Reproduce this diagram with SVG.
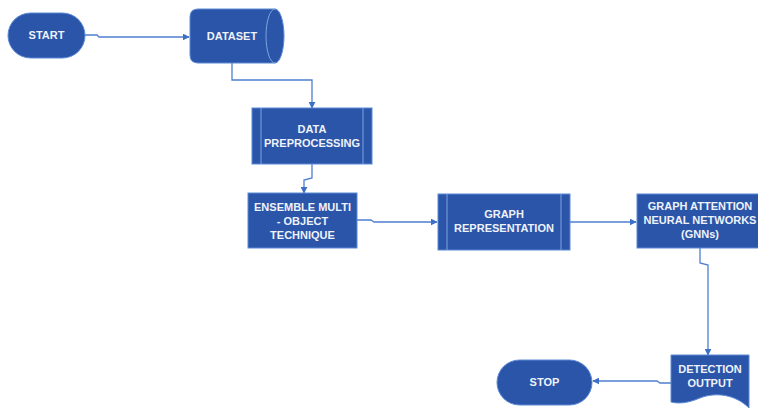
<svg xmlns="http://www.w3.org/2000/svg" width="758" height="408" viewBox="0 0 758 408">
  <style>
    .node { fill: #2a55a8; stroke: #5d8ad6; stroke-width: 1; }
    .inner { fill: none; stroke: #7fa3e0; stroke-width: 1; }
    .lbl { font-family: "Liberation Sans", Arial, sans-serif; font-weight: bold; font-size: 11px; fill: #eef2fa; text-anchor: middle; }
    .conn { fill: none; stroke: #4f7fd0; stroke-width: 1.3; }
  </style>
  <defs>
    <marker id="arrow" viewBox="0 0 10 10" refX="9" refY="5" markerWidth="7" markerHeight="7" orient="auto" markerUnits="userSpaceOnUse">
      <path d="M0,0 L10,5 L0,10 z" fill="#3d6fc4"/>
    </marker>
  </defs>
  <rect width="758" height="408" fill="#ffffff"/>

  <g id="connectors">
    <path class="conn" d="M85,35 H97 L99,37 H189" marker-end="url(#arrow)"/>
    <path class="conn" d="M232,63 V80 H312 V108" marker-end="url(#arrow)"/>
    <path class="conn" d="M312,164 V178 L304,180 V193" marker-end="url(#arrow)"/>
    <path class="conn" d="M357,220 H371 L374,222 H437" marker-end="url(#arrow)"/>
    <path class="conn" d="M570,222 H636" marker-end="url(#arrow)"/>
    <path class="conn" d="M700,248 V263 L708,265 V355" marker-end="url(#arrow)"/>
    <path class="conn" d="M671,383 H660 L657,381 H593" marker-end="url(#arrow)"/>
  </g>

  <g id="start">
    <rect class="node" x="8" y="13" width="77" height="45" rx="22.5"/>
    <text class="lbl" x="46.5" y="39">START</text>
  </g>

  <g id="dataset">
    <path class="node" d="M198,9 H275 A9,27 0 0 1 275,63 H198 Q190,63 190,55 V17 Q190,9 198,9 Z"/>
    <path class="inner" d="M275,9 A9,27 0 0 0 275,63"/>
    <text class="lbl" x="232" y="40">DATASET</text>
  </g>

  <g id="preprocessing">
    <rect class="node" x="252" y="108" width="120" height="56"/>
    <line class="inner" x1="261" y1="108" x2="261" y2="164"/>
    <line class="inner" x1="363" y1="108" x2="363" y2="164"/>
    <text class="lbl" x="312" y="133">DATA</text>
    <text class="lbl" x="312" y="147">PREPROCESSING</text>
  </g>

  <g id="ensemble">
    <rect class="node" x="248" y="193" width="109" height="55"/>
    <text class="lbl" x="302.5" y="211">ENSEMBLE MULTI</text>
    <text class="lbl" x="302.5" y="225">- OBJECT</text>
    <text class="lbl" x="302.5" y="239">TECHNIQUE</text>
  </g>

  <g id="graph-representation">
    <rect class="node" x="438" y="194" width="132" height="56"/>
    <line class="inner" x1="447" y1="194" x2="447" y2="250"/>
    <line class="inner" x1="561" y1="194" x2="561" y2="250"/>
    <text class="lbl" x="504" y="218">GRAPH</text>
    <text class="lbl" x="504" y="232">REPRESENTATION</text>
  </g>

  <g id="graph-attention">
    <rect class="node" x="637" y="194" width="130" height="54"/>
    <text class="lbl" x="700" y="210">GRAPH ATTENTION</text>
    <text class="lbl" x="700" y="224">NEURAL NETWORKS</text>
    <text class="lbl" x="700" y="238">(GNNs)</text>
  </g>

  <g id="detection-output">
    <path class="node" d="M671,355 H749 V408 C735,394 715,392 700,398 C688,403 679,404 671,402 Z"/>
    <text class="lbl" x="710" y="373">DETECTION</text>
    <text class="lbl" x="710" y="387">OUTPUT</text>
  </g>

  <g id="stop">
    <rect class="node" x="497" y="360" width="95" height="45" rx="22.5"/>
    <text class="lbl" x="544.5" y="386">STOP</text>
  </g>
</svg>
